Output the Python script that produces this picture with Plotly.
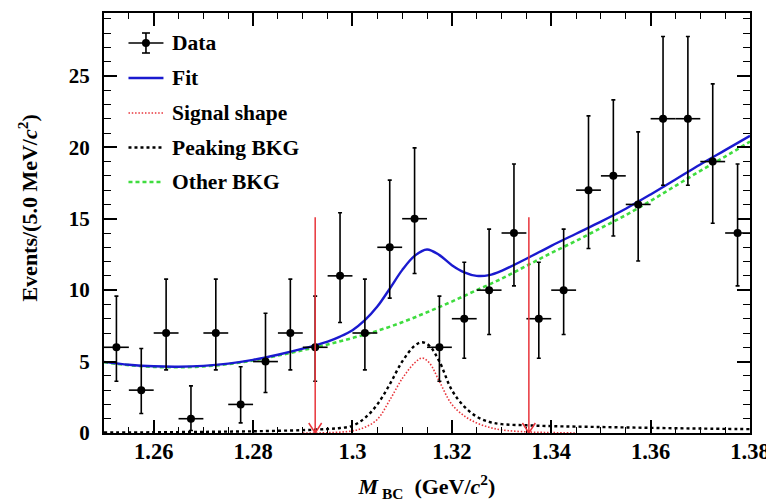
import plotly.graph_objects as go

# ---------------- data ----------------
bin_centers = [1.2525, 1.2575, 1.2625, 1.2675, 1.2725, 1.2775, 1.2825, 1.2875,
               1.2925, 1.2975, 1.3025, 1.3075, 1.3125, 1.3175, 1.3225, 1.3275,
               1.3325, 1.3375, 1.3425, 1.3475, 1.3525, 1.3575, 1.3625, 1.3675,
               1.3725, 1.3775]
counts = [6, 3, 7, 1, 7, 2, 5, 7, 6, 11, 7, 13, 15, 6, 8, 10, 14, 8, 10, 17,
          18, 16, 22, 22, 19, 14]
err_hi = [3.58, 2.92, 3.77, 2.30, 3.77, 2.64, 3.38, 3.77, 3.58, 4.42, 3.77, 4.70,
          4.96, 3.58, 3.95, 4.27, 4.83, 3.95, 4.27, 5.20, 5.32, 5.08, 5.76, 5.76,
          5.44, 4.83]
err_lo = [2.38, 1.63, 2.58, 0.83, 2.58, 1.29, 2.16, 2.58, 2.38, 3.27, 2.58, 3.56,
          3.83, 2.38, 2.77, 3.11, 3.70, 2.77, 3.11, 4.08, 4.21, 3.96, 4.66, 4.66,
          4.32, 3.70]
half_bin = [0.0025] * len(bin_centers)

fit_x = [1.250, 1.255, 1.260, 1.265, 1.270, 1.275, 1.280, 1.285, 1.290, 1.295,
         1.2975, 1.300, 1.3025, 1.305, 1.3075, 1.310, 1.3125, 1.315, 1.3175,
         1.320, 1.3225, 1.325, 1.3275, 1.330, 1.335, 1.340, 1.345, 1.350, 1.355,
         1.360, 1.365, 1.370, 1.375, 1.380]
fit_y = [4.98, 4.78, 4.67, 4.64, 4.70, 4.86, 5.12, 5.48, 5.90, 6.40,
         6.75, 7.20, 7.90, 8.85, 10.1, 11.4, 12.4, 12.85, 12.45,
         11.75, 11.25, 11.00, 11.05, 11.35, 12.20, 13.1, 13.95, 14.8, 15.7,
         16.7, 17.75, 18.8, 19.8, 20.8]

other_x = [1.250, 1.255, 1.260, 1.265, 1.270, 1.275, 1.280, 1.285, 1.290, 1.295,
           1.300, 1.305, 1.310, 1.315, 1.320, 1.325, 1.330, 1.335, 1.340, 1.345,
           1.350, 1.355, 1.360, 1.365, 1.370, 1.375, 1.380]
other_y = [4.95, 4.75, 4.63, 4.60, 4.66, 4.82, 5.08, 5.42, 5.80, 6.20,
           6.65, 7.15, 7.75, 8.45, 9.20, 10.00, 10.80, 11.70, 12.60, 13.45,
           14.35, 15.25, 16.25, 17.30, 18.35, 19.35, 20.40]

peak_x = [1.250, 1.260, 1.270, 1.280, 1.290, 1.295, 1.2975, 1.300, 1.3025, 1.305,
          1.3075, 1.310, 1.3125, 1.314, 1.3155, 1.3175, 1.320, 1.3225, 1.325,
          1.3275, 1.330, 1.335, 1.340, 1.350, 1.360, 1.370, 1.380]
peak_y = [0.03, 0.05, 0.08, 0.12, 0.20, 0.28, 0.35, 0.50, 1.05, 2.0,
          3.4, 5.0, 6.1, 6.35, 6.1, 5.0, 3.0, 1.85, 1.15,
          0.78, 0.62, 0.54, 0.48, 0.42, 0.36, 0.31, 0.27]

sig_x = [1.290, 1.295, 1.300, 1.3025, 1.305, 1.3075, 1.310, 1.3125, 1.314, 1.3155,
         1.3175, 1.320, 1.3225, 1.325, 1.3275, 1.330, 1.335, 1.340, 1.345]
sig_y = [0.0, 0.02, 0.15, 0.4, 0.95, 2.3, 3.8, 4.9, 5.25, 4.9,
         3.6, 2.0, 1.2, 0.7, 0.4, 0.22, 0.08, 0.03, 0.0]

cut_edges = [1.2925, 1.3355]
cut_top = 15.1

x_range = [1.25, 1.38]
y_range = [0, 29.4]

legend_labels = ["Data", "Fit", "Signal shape", "Peaking BKG", "Other BKG"]
x_title = "<i>M</i><sub>&nbsp;BC</sub>&nbsp;&nbsp;(GeV/<i>c</i><sup>2</sup>)"
y_title = "Events/(5.0 MeV/<i>c</i><sup>2</sup>)"

# ---------------- styles ----------------
FONT = "Liberation Serif"
BLUE = "#1a1acf"
RED = "#e8353b"
GREEN = "#3fdc3f"

# the page body adds an 8 px offset; size the figure so the frame lands
# where the original one is in the 774x504 window
OFF = 8
W, H = 774 - OFF, 504 - OFF
M_L, M_R, M_T, M_B = 104 - OFF, 24, 13 - OFF, 71

fig = go.Figure()

fig.add_trace(go.Scatter(x=sig_x, y=sig_y, mode="lines", line_shape="spline",
                         line=dict(color=RED, width=1.6, dash="1.5px,1.8px"),
                         showlegend=False))
fig.add_trace(go.Scatter(x=peak_x, y=peak_y, mode="lines", line_shape="spline",
                         line=dict(color="black", width=2.4, dash="3px,3px"),
                         showlegend=False))
fig.add_trace(go.Scatter(x=other_x, y=other_y, mode="lines", line_shape="spline",
                         line=dict(color=GREEN, width=2.6, dash="4px,3px"),
                         showlegend=False))
fig.add_trace(go.Scatter(x=fit_x, y=fit_y, mode="lines", line_shape="spline",
                         line=dict(color=BLUE, width=2.4), showlegend=False))
fig.add_trace(go.Scatter(
    x=bin_centers, y=counts, mode="markers",
    marker=dict(color="black", size=8),
    error_y=dict(type="data", symmetric=False, array=err_hi, arrayminus=err_lo,
                 color="black", thickness=1.6, width=2),
    error_x=dict(type="data", array=half_bin, color="black", thickness=1.6, width=0),
    showlegend=False))

# cut-window arrows (stem + open V head), built from the cut edges
head_dx, head_dy = 0.0013, 0.7
for xc in cut_edges:
    path = (f"M {xc},{cut_top} L {xc},0 "
            f"M {xc - head_dx},{head_dy} L {xc},0 L {xc + head_dx},{head_dy}")
    fig.add_shape(type="path", path=path, xref="x", yref="y",
                  line=dict(color=RED, width=1.5))

# ---------------- manual legend (ROOT style) ----------------
PL, PR, PT, PB = 103.5, 750.0, 13.0, 433.0  # frame in window pixels


def px(xp):
    return (xp - PL) / (PR - PL)


def py(yp):
    return (PB - yp) / (PB - PT)


rows = [43, 78, 113, 147.5, 182]
sx0, sx1, tx = 128, 163, 170
for lab, yr in zip(legend_labels, rows):
    fig.add_annotation(x=px(tx), y=py(yr), xref="paper", yref="paper",
                       text=lab, showarrow=False, xanchor="left", yanchor="middle",
                       font=dict(family=FONT, size=21.5, color="black", weight="bold"))

line_styles = [None,
               dict(color=BLUE, width=2.4),
               dict(color=RED, width=1.6, dash="1.5px,1.8px"),
               dict(color="black", width=2.4, dash="3px,3px"),
               dict(color=GREEN, width=2.6, dash="4px,3px")]
for st, yr in zip(line_styles[1:], rows[1:]):
    fig.add_shape(type="line", xref="paper", yref="paper",
                  x0=px(sx0), x1=px(sx1), y0=py(yr), y1=py(yr), line=st)
# data symbol: cross with caps and dot
yd = rows[0]
xm = (sx0 + sx1) / 2
fig.add_shape(type="line", xref="paper", yref="paper", x0=px(sx0), x1=px(sx1),
              y0=py(yd), y1=py(yd), line=dict(color="black", width=1.6))
fig.add_shape(type="line", xref="paper", yref="paper", x0=px(xm), x1=px(xm),
              y0=py(yd - 10), y1=py(yd + 10), line=dict(color="black", width=1.6))
for dy in (-10, 10):
    fig.add_shape(type="line", xref="paper", yref="paper", x0=px(xm - 4), x1=px(xm + 4),
                  y0=py(yd + dy), y1=py(yd + dy), line=dict(color="black", width=1.6))
fig.add_shape(type="circle", xref="paper", yref="paper", x0=px(xm - 4), x1=px(xm + 4),
              y0=py(yd + 4), y1=py(yd - 4), fillcolor="black", line=dict(width=0))

# y-axis title (placed like the ROOT original, slightly above centre)
fig.add_annotation(x=px(27), y=py(208), xref="paper", yref="paper", text=y_title,
                   textangle=-90, showarrow=False, xanchor="center", yanchor="middle",
                   font=dict(family=FONT, size=22, color="black", weight="bold"))

# ---------------- axes / layout ----------------
axis_common = dict(showline=True, linecolor="black", linewidth=2, mirror="allticks",
                   ticks="inside", tickcolor="black", tickwidth=1.5, ticklen=13,
                   showgrid=False, zeroline=False, automargin=False)

fig.update_xaxes(range=x_range, tick0=1.26, dtick=0.02, tickformat="~g",
                 minor=dict(dtick=0.005, ticklen=6, tickwidth=1.2, tickcolor="black",
                            ticks="inside", showgrid=False),
                 tickfont=dict(family=FONT, size=22.5, color="black", weight="bold"),
                 title=dict(text=x_title,
                            font=dict(family=FONT, size=22, color="black", weight="bold"),
                            standoff=16),
                 ticklabelstandoff=-3,
                 **axis_common)
fig.update_yaxes(range=y_range, tick0=0, dtick=5,
                 minor=dict(dtick=1, ticklen=7, tickwidth=1.2, tickcolor="black",
                            ticks="inside", showgrid=False),
                 tickfont=dict(family=FONT, size=21, color="black", weight="bold"),
                 ticklabelstandoff=8,
                 **axis_common)

fig.update_layout(width=W, height=H,
                  margin=dict(l=M_L, r=M_R, t=M_T, b=M_B),
                  paper_bgcolor="white", plot_bgcolor="white",
                  showlegend=False,
                  font=dict(family=FONT, color="black"))

fig.write_html("out.html")
